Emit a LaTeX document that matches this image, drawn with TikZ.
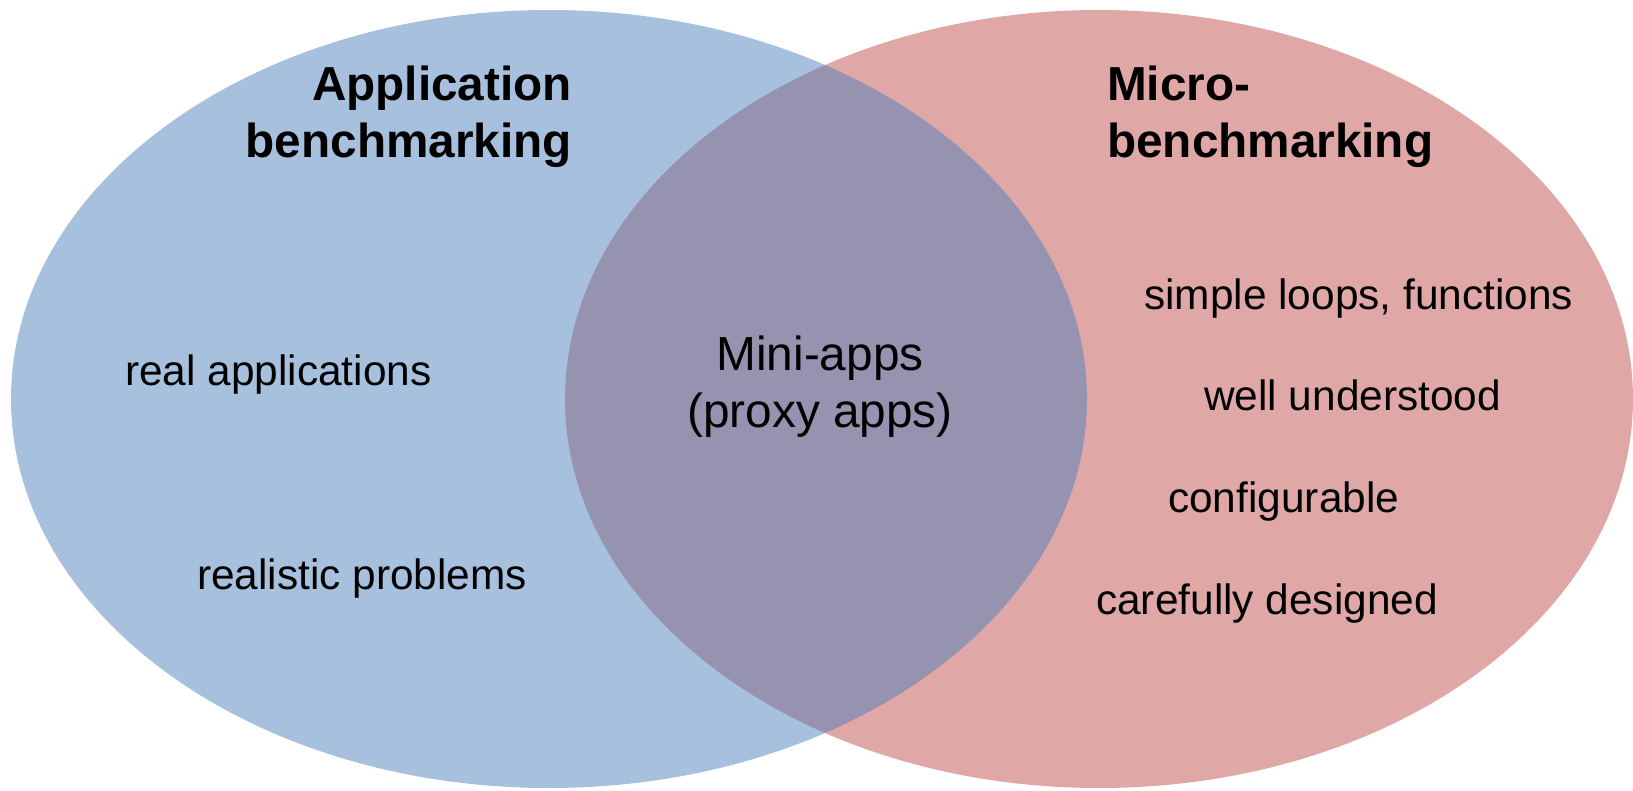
\documentclass[tikz,border=0pt]{standalone}
\usepackage{fontspec}
\setmainfont{Liberation Sans}
\definecolor{appblue}{HTML}{4F81BD}
\definecolor{microred}{HTML}{C0504D}
\tikzset{
  settext/.style={inner sep=0pt, font=\fontsize{42.4}{50}\selectfont, text=black},
  midtext/.style={inner sep=0pt, font=\fontsize{47.8}{58}\selectfont, text=black},
  headtext/.style={inner sep=0pt, font=\fontsize{47.7}{58}\bfseries\selectfont, text=black},
}
\begin{document}
\begin{tikzpicture}[x=1pt,y=-1pt]
  \useasboundingbox (0,0) rectangle (1633,790);
  % the two sets, half transparent, blue over red
  \fill[microred, fill opacity=0.5] (1099,399) ellipse [x radius=534pt, y radius=389pt];
  \fill[appblue, fill opacity=0.5] (549,399) ellipse [x radius=538pt, y radius=389pt];

  % set titles
  \node[headtext, anchor=base east] (appA) at (572,100) {Application};
  \node[headtext, anchor=base east] (appB) at (572,157) {benchmarking};
  \node[headtext, anchor=base west] (micA) at (1107,100) {Micro-};
  \node[headtext, anchor=base west] (micB) at (1107,157) {benchmarking};

  % application benchmarking
  \node[settext, anchor=base west] (real) at (125,385) {real applications};
  \node[settext, anchor=base west] (probs) at (197,589) {realistic problems};

  % overlap
  \node[midtext, anchor=base] (mini) at (820,370) {Mini-apps};
  \node[midtext, anchor=base] (proxy) at (820,427) {(proxy apps)};

  % micro-benchmarking
  \node[settext, anchor=base west] (loops) at (1144,309) {simple loops, functions};
  \node[settext, anchor=base west] (well) at (1204,410) {well understood};
  \node[settext, anchor=base west] (conf) at (1168,512) {configurable};
  \node[settext, anchor=base west] (care) at (1096,614) {carefully designed};
\end{tikzpicture}
\end{document}
